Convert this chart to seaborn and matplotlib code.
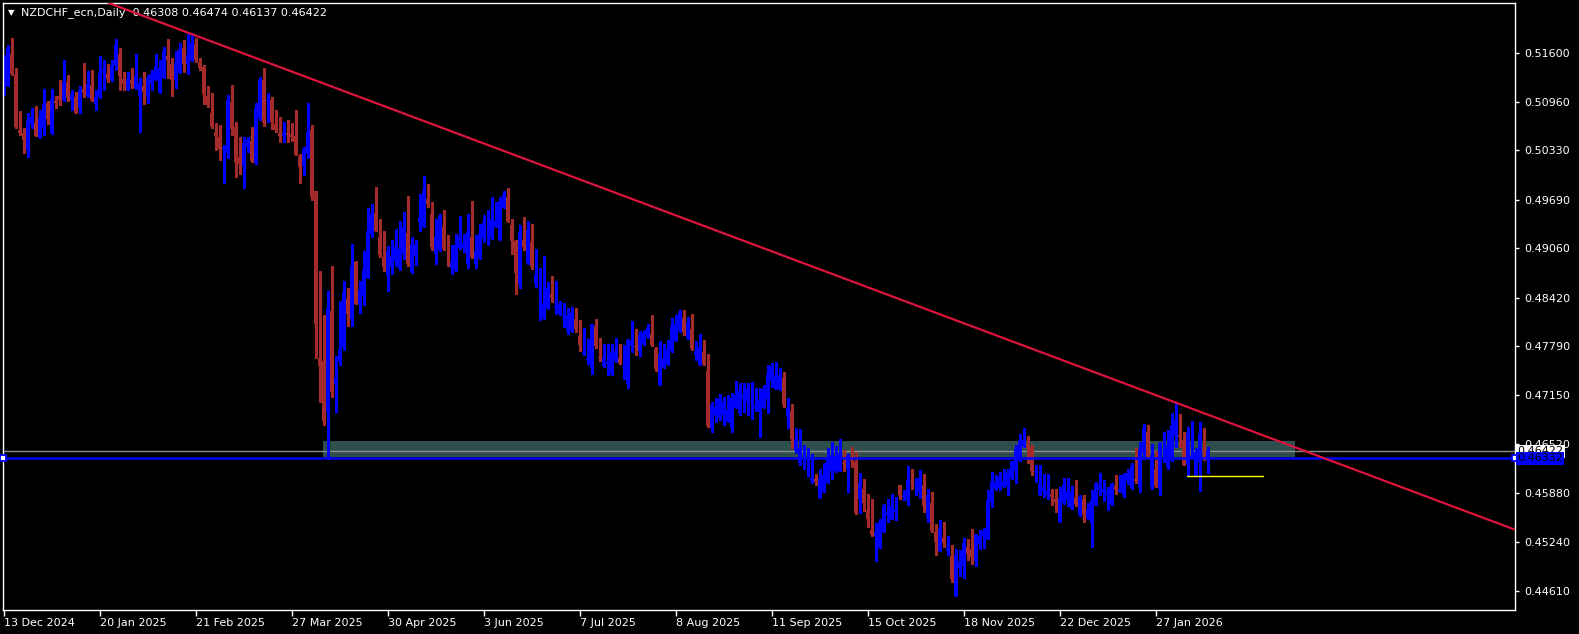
import matplotlib
matplotlib.use('Agg')
import matplotlib.pyplot as plt
import matplotlib.transforms as mtransforms
import numpy as np
import pandas as pd
import seaborn as sns

# NZDCHF daily candles, bar 0 = 13 Dec 2024
symbol_title = 'NZDCHF_ecn,Daily'
last_ohlc = ['0.46308', '0.46474', '0.46137', '0.46422']

opens = [
    .5105, .5116, .5158, .5131, .5059, .5056, .5033, .5067, .5069, .5049,
    .5062, .5094, .5055, .5097, .5104, .5098, .5122, .5098, .5103, .5088,
    .5113, .5104, .5118, .5093, .5103, .5134, .5132, .5124, .5142, .5158,
    .5126, .5111, .5124, .5114, .5104, .5116, .5103, .5119, .5125, .5109,
    .5127, .5156, .5145, .5124, .5134, .5166, .5145, .5150, .5171, .5148,
    .5141, .5104, .5082, .5057, .5050, .5035, .5030, .5096, .5064, .5025,
    .5013, .5038, .5045, .5017, .5075, .5124, .5097, .5098, .5067, .5055,
    .5052, .5056, .5054, .5052, .5026, .5013, .5028, .5060, .4980, .4763,
    .4759, .4693, .4825, .4730, .4759, .4778, .4840, .4814, .4888, .4834,
    .4844, .4868, .4924, .4952, .4921, .4895, .4870, .4881, .4890, .4879,
    .4898, .4926, .4875, .4896, .4940, .4934, .4970, .4950, .4898, .4904,
    .4934, .4895, .4880, .4876, .4906, .4906, .4885, .4921, .4885, .4893,
    .4919, .4929, .4919, .4934, .4917, .4958, .4973, .4936, .4915, .4859,
    .4917, .4887, .4914, .4859, .4853, .4815, .4829, .4847, .4828, .4820,
    .4817, .4799, .4799, .4814, .4792, .4769, .4761, .4750, .4805, .4764,
    .4753, .4756, .4743, .4759, .4764, .4751, .4730, .4779, .4779, .4772,
    .4782, .4791, .4794, .4775, .4729, .4752, .4756, .4772, .4786, .4798,
    .4816, .4788, .4801, .4767, .4755, .4771, .4746, .4672, .4689, .4685,
    .4689, .4682, .4673, .4699, .4692, .4710, .4707, .4707, .4697, .4694,
    .4699, .4710, .4734, .4723, .4723, .4738, .4687, .4695, .4643, .4627,
    .4632, .4617, .4604, .4606, .4582, .4590, .4603, .4617, .4617, .4617,
    .4627, .4619, .4636, .4628, .4580, .4594, .4566, .4540, .4533, .4517,
    .4538, .4559, .4555, .4564, .4599, .4583, .4579, .4604, .4599, .4590,
    .4599, .4556, .4575, .4538, .4513, .4530, .4513, .4506, .4455, .4491,
    .4494, .4518, .4515, .4500, .4522, .4531, .4528, .4576, .4593, .4595,
    .4596, .4597, .4608, .4617, .4631, .4649, .4652, .4648, .4615, .4585,
    .4591, .4585, .4587, .4580, .4550, .4575, .4579, .4567, .4582, .4559,
    .4581, .4556, .4549, .4573, .4592, .4590, .4586, .4574, .4597, .4590,
    .4586, .4604, .4595, .4606, .4596, .4640, .4667, .4596, .4620, .4593,
    .4642, .4622, .4631, .4662, .4664, .4657, .4624, .4634, .4610, .4628,
    .4645, .46308,
]
highs = [
    .5157, .5170, .5179, .5140, .5084, .5062, .5081, .5088, .5091, .5085,
    .5113, .5097, .5113, .5104, .5124, .5150, .5131, .5111, .5109, .5116,
    .5147, .5136, .5137, .5111, .5156, .5150, .5145, .5151, .5178, .5166,
    .5135, .5135, .5140, .5158, .5127, .5135, .5131, .5137, .5158, .5150,
    .5167, .5178, .5153, .5162, .5172, .5176, .5184, .5186, .5179, .5153,
    .5144, .5117, .5107, .5069, .5066, .5040, .5105, .5118, .5070, .5051,
    .5051, .5051, .5063, .5095, .5128, .5140, .5108, .5102, .5085, .5077,
    .5070, .5072, .5068, .5085, .5028, .5038, .5095, .5066, .4980, .4876,
    .4819, .4851, .4883, .4766, .4837, .4863, .4855, .4911, .4890, .4864,
    .4903, .4958, .4963, .4986, .4944, .4928, .4909, .4917, .4931, .4941,
    .4953, .4974, .4920, .4917, .4977, .5000, .4990, .4966, .4944, .4950,
    .4956, .4923, .4910, .4925, .4948, .4925, .4950, .4967, .4923, .4938,
    .4949, .4956, .4973, .4966, .4973, .4980, .4984, .4944, .4917, .4936,
    .4946, .4941, .4938, .4905, .4880, .4896, .4862, .4870, .4863, .4837,
    .4835, .4829, .4830, .4829, .4813, .4802, .4788, .4808, .4814, .4789,
    .4782, .4782, .4782, .4790, .4782, .4780, .4788, .4812, .4801, .4798,
    .4800, .4808, .4819, .4778, .4785, .4782, .4787, .4815, .4819, .4826,
    .4826, .4817, .4821, .4785, .4795, .4787, .4769, .4707, .4712, .4717,
    .4713, .4716, .4718, .4734, .4731, .4731, .4731, .4732, .4724, .4724,
    .4728, .4754, .4757, .4758, .4750, .4745, .4711, .4704, .4673, .4671,
    .4650, .4646, .4639, .4613, .4619, .4627, .4646, .4654, .4649, .4658,
    .4644, .4639, .4648, .4642, .4614, .4606, .4587, .4581, .4549, .4555,
    .4574, .4581, .4587, .4583, .4599, .4592, .4623, .4619, .4608, .4618,
    .4613, .4593, .4590, .4548, .4553, .4550, .4532, .4521, .4515, .4514,
    .4530, .4528, .4542, .4535, .4540, .4543, .4592, .4615, .4612, .4615,
    .4619, .4619, .4630, .4650, .4665, .4673, .4662, .4651, .4625, .4625,
    .4613, .4613, .4593, .4593, .4596, .4608, .4608, .4597, .4605, .4586,
    .4586, .4575, .4592, .4603, .4614, .4605, .4596, .4601, .4612, .4612,
    .4614, .4620, .4627, .4646, .4655, .4678, .4676, .4652, .4643, .4655,
    .4668, .4670, .4692, .4705, .4691, .4668, .4674, .4682, .4646, .4680,
    .4672, .46474,
]
lows = [
    .5105, .5116, .5131, .5062, .5053, .5030, .5025, .5062, .5052, .5049,
    .5053, .5067, .5054, .5088, .5092, .5097, .5097, .5085, .5081, .5081,
    .5103, .5103, .5097, .5085, .5101, .5111, .5122, .5123, .5137, .5111,
    .5112, .5111, .5114, .5113, .5057, .5093, .5095, .5112, .5124, .5108,
    .5127, .5127, .5104, .5114, .5133, .5135, .5132, .5149, .5148, .5137,
    .5093, .5090, .5062, .5033, .5021, .4991, .5023, .5053, .4999, .5003,
    .4984, .5031, .5018, .5015, .5073, .5065, .5070, .5061, .5057, .5044,
    .5044, .5044, .5045, .5027, .4991, .5001, .5023, .4968, .4763, .4706,
    .4677, .4633, .4713, .4694, .4754, .4774, .4805, .4805, .4834, .4822,
    .4832, .4868, .4921, .4928, .4894, .4876, .4850, .4873, .4883, .4878,
    .4892, .4883, .4874, .4884, .4928, .4934, .4959, .4904, .4886, .4902,
    .4904, .4883, .4873, .4876, .4905, .4901, .4880, .4893, .4880, .4892,
    .4914, .4910, .4918, .4933, .4917, .4958, .4940, .4898, .4846, .4855,
    .4904, .4886, .4879, .4856, .4813, .4814, .4827, .4836, .4821, .4819,
    .4804, .4795, .4797, .4797, .4772, .4768, .4756, .4743, .4777, .4759,
    .4752, .4742, .4742, .4758, .4756, .4736, .4725, .4771, .4767, .4766,
    .4780, .4789, .4779, .4746, .4729, .4751, .4755, .4771, .4785, .4797,
    .4793, .4788, .4774, .4761, .4754, .4754, .4674, .4668, .4680, .4683,
    .4677, .4681, .4667, .4698, .4689, .4694, .4689, .4684, .4695, .4661,
    .4698, .4692, .4726, .4723, .4722, .4700, .4673, .4646, .4640, .4625,
    .4620, .4610, .4601, .4598, .4582, .4589, .4601, .4606, .4616, .4617,
    .4617, .4589, .4622, .4561, .4562, .4565, .4544, .4533, .4500, .4517,
    .4537, .4550, .4554, .4553, .4580, .4579, .4573, .4593, .4585, .4582,
    .4564, .4550, .4538, .4508, .4513, .4518, .4508, .4473, .4455, .4480,
    .4478, .4501, .4496, .4494, .4515, .4517, .4528, .4570, .4592, .4592,
    .4596, .4585, .4607, .4601, .4630, .4648, .4627, .4612, .4603, .4585,
    .4583, .4581, .4572, .4563, .4550, .4574, .4571, .4567, .4571, .4558,
    .4551, .4555, .4518, .4573, .4586, .4578, .4566, .4573, .4587, .4589,
    .4583, .4600, .4594, .4601, .4589, .4636, .4635, .4593, .4596, .4586,
    .4628, .4619, .4630, .4648, .4648, .4624, .4610, .4634, .4610, .4591,
    .4631, .46137,
]
closes = [
    .5157, .5166, .5132, .5064, .5056, .5046, .5072, .5076, .5052, .5075,
    .5093, .5074, .5100, .5095, .5098, .5122, .5101, .5106, .5082, .5111,
    .5108, .5119, .5098, .5103, .5134, .5137, .5126, .5143, .5170, .5129,
    .5119, .5126, .5119, .5129, .5121, .5109, .5127, .5134, .5143, .5140,
    .5162, .5150, .5124, .5147, .5165, .5145, .5157, .5173, .5150, .5140,
    .5106, .5092, .5065, .5052, .5035, .5037, .5098, .5061, .5018, .5015,
    .5043, .5047, .5019, .5088, .5124, .5069, .5099, .5070, .5059, .5052,
    .5055, .5053, .5050, .5027, .5012, .5035, .5057, .4973, .4807, .4753,
    .4682, .4828, .4719, .4738, .4774, .4849, .4820, .4883, .4834, .4852,
    .4878, .4928, .4950, .4929, .4897, .4881, .4902, .4895, .4909, .4905,
    .4934, .4885, .4910, .4910, .4947, .4981, .4963, .4907, .4921, .4948,
    .4905, .4894, .4888, .4910, .4921, .4913, .4929, .4894, .4902, .4924,
    .4940, .4930, .4944, .4941, .4966, .4976, .4941, .4916, .4874, .4927,
    .4907, .4930, .4881, .4871, .4855, .4835, .4855, .4841, .4831, .4834,
    .4818, .4819, .4822, .4801, .4781, .4771, .4763, .4808, .4779, .4763,
    .4763, .4758, .4770, .4774, .4757, .4752, .4787, .4785, .4778, .4793,
    .4796, .4802, .4780, .4749, .4769, .4762, .4775, .4805, .4808, .4822,
    .4797, .4809, .4775, .4773, .4778, .4756, .4675, .4702, .4700, .4710,
    .4706, .4696, .4712, .4715, .4722, .4715, .4723, .4708, .4701, .4710,
    .4723, .4743, .4753, .4741, .4741, .4702, .4699, .4658, .4658, .4647,
    .4634, .4618, .4608, .4603, .4606, .4611, .4634, .4638, .4636, .4640,
    .4626, .4636, .4630, .4562, .4601, .4575, .4555, .4534, .4538, .4550,
    .4571, .4564, .4571, .4568, .4586, .4585, .4605, .4602, .4600, .4608,
    .4571, .4586, .4539, .4524, .4541, .4523, .4517, .4476, .4508, .4499,
    .4523, .4509, .4505, .4535, .4532, .4539, .4579, .4602, .4603, .4609,
    .4604, .4614, .4630, .4645, .4657, .4657, .4648, .4617, .4617, .4600,
    .4597, .4591, .4583, .4576, .4582, .4599, .4591, .4589, .4574, .4583,
    .4559, .4568, .4579, .4600, .4599, .4593, .4591, .4600, .4592, .4593,
    .4612, .4614, .4623, .4604, .4645, .4673, .4636, .4637, .4597, .4652,
    .4643, .4650, .4675, .4683, .4661, .4624, .4666, .4636, .4641, .4665,
    .4641, .46422,
]

date_ticks = [0, 24, 48, 72, 96, 120, 144, 168, 192, 216, 240, 264, 288]
date_labels = ['13 Dec 2024', '20 Jan 2025', '21 Feb 2025', '27 Mar 2025',
               '30 Apr 2025', '3 Jun 2025', '7 Jul 2025', '8 Aug 2025',
               '11 Sep 2025', '15 Oct 2025', '18 Nov 2025', '22 Dec 2025',
               '27 Jan 2026']
price_ticks = [0.51600, 0.50960, 0.50330, 0.49690, 0.49060, 0.48420,
               0.47790, 0.47150, 0.46520, 0.45880, 0.45240, 0.44610]

# drawn objects
trend_bars = [45, 300]
trend_prices = [0.5188, 0.4692]
level_price = 0.46332
bid_price = 0.46422
zone_bars = [79.8, 322.9]
zone_prices = [0.4635, 0.46557]
stop_bars = [295.9, 314.9]
stop_price = 0.4610

sns.set_theme(style='dark', rc={
    'figure.facecolor': 'black',
    'axes.facecolor': 'black',
    'axes.edgecolor': 'white',
    'axes.grid': False,
    'text.color': 'white',
    'xtick.color': 'white',
    'ytick.color': 'white',
})
plt.rcParams['font.family'] = ['DejaVu Sans']

fig = plt.figure(figsize=(15.79, 6.34), dpi=100)
ax = fig.add_axes([3 / 1579, 24 / 634, 1512 / 1579, 607 / 634])

df = pd.DataFrame({'open': opens, 'high': highs, 'low': lows, 'close': closes})
df['bar'] = np.arange(len(df))
up = df['close'] >= df['open']
colors = np.where(up, '#0000FF', '#A52A2A')

# zone and bid line sit behind the candles
ax.fill_between(zone_bars, zone_prices[0], zone_prices[1], color='#2F4F4F', lw=0, zorder=0.5)
ax.axhline(bid_price, color='#8c8c8c', lw=1.0, zorder=0.8)

ax.vlines(df['bar'], df['low'], df['high'], colors=colors, lw=0.75, zorder=2,
          antialiased=False)
body_low = df[['open', 'close']].min(axis=1)
body_h = (df['close'] - df['open']).abs().clip(lower=0.00012)
ax.bar(df['bar'], body_h, bottom=body_low, width=0.66, color=colors, linewidth=0,
       zorder=2.5, antialiased=False)

ax.axhline(level_price, color='#0000FF', lw=1.8, zorder=4)
ax.axline((trend_bars[0], trend_prices[0]), (trend_bars[1], trend_prices[1]),
          color='#DC143C', lw=1.6, zorder=4)
sns.lineplot(x=stop_bars, y=[stop_price, stop_price], color='#FFFF00', lw=1.0, ax=ax, zorder=4)

xmin, xmax = -0.15, 377.85
ax.set_xlim(xmin, xmax)
ax.set_ylim(0.44363, 0.52244)
ax.plot([xmin, xmax], [level_price, level_price], 's', ms=4, mfc='white', mec='#0000FF',
        mew=1.3, clip_on=False, zorder=5)

ax.yaxis.tick_right()
ax.set_yticks(price_ticks)
ax.set_yticklabels([f'{v:.5f}' for v in price_ticks])
ax.tick_params(axis='y', left=False, right=True, length=3, width=1, color='white',
               labelcolor='white', labelsize=8, pad=4)
ax.set_xticks(date_ticks)
ax.set_xticklabels(date_labels, ha='left')
ax.tick_params(axis='x', bottom=True, length=4, width=1, color='white',
               labelcolor='white', labelsize=8, pad=2)
ax.set_xlabel('')
ax.set_ylabel('')
for side in ['left', 'right', 'top', 'bottom']:
    ax.spines[side].set_color('white')
    ax.spines[side].set_linewidth(1)

# price labels on the axis
trans = mtransforms.blended_transform_factory(ax.transAxes, ax.transData)
ax.text(1.0015, bid_price, f'{bid_price:.5f}', transform=trans, color='black', fontsize=8,
        va='center', ha='left', clip_on=False, zorder=6,
        bbox=dict(boxstyle='square,pad=0.12', fc='white', ec='none'))
ax.text(1.0015, level_price, f'{level_price:.5f}', transform=trans, color='black', fontsize=8,
        va='center', ha='left', clip_on=False, zorder=7,
        bbox=dict(boxstyle='square,pad=0.12', fc='#0000FF', ec='none'))

ax.text(0.0032, 0.985, '\u25bc', transform=ax.transAxes, fontsize=6, color='white', va='center')
ax.text(0.0119, 0.985, f'{symbol_title}  ' + ' '.join(last_ohlc), transform=ax.transAxes,
        fontsize=8, color='white', va='center', ha='left')

fig.savefig('out.png', dpi=100, facecolor='black')
